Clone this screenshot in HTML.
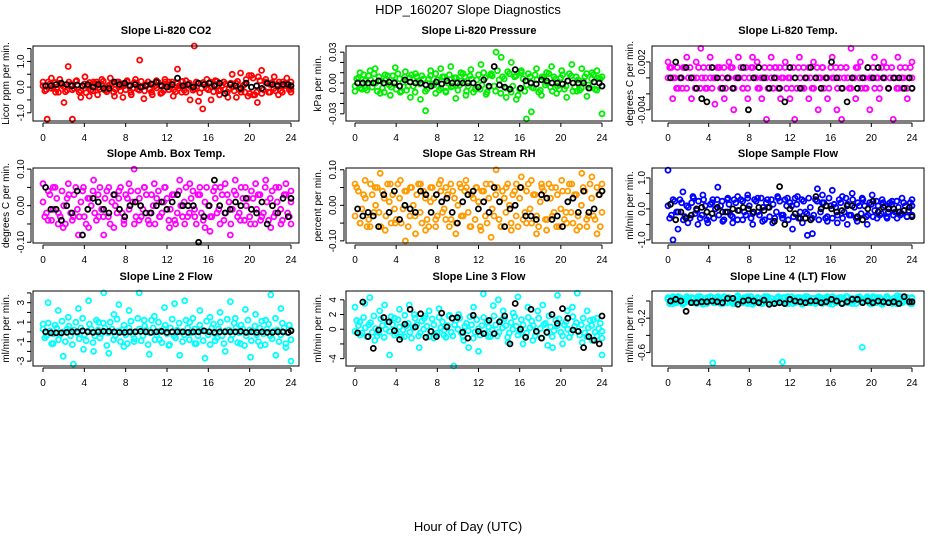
<!DOCTYPE html>
<html><head><meta charset="utf-8"><style>
html,body{margin:0;padding:0;background:#fff;}
svg{display:block;font-family:"Liberation Sans",sans-serif;}
</style></head><body>
<svg id="chart" width="936" height="540" viewBox="0 0 936 540">
<rect width="936" height="540" fill="#fff"/>
<text x="468" y="14" font-size="13" text-anchor="middle">HDP_160207  Slope Diagnostics</text>
<text x="468" y="531" font-size="13" text-anchor="middle">Hour of Day (UTC)</text>
</svg>
<script>
// ---- data (A, A2, C = dense band samples, B = scattered samples, K = black subset) ----
const xTicks=[0,4,8,12,16,20,24];
const co2A=[0.05,-0.1,0.12,0.0,-0.08,0.15,0.02,-0.12,0.1,-0.05,0.08,-0.15,0.12,0.03,-0.1,0.14,-0.02,0.1,-0.12,0.05,0.15,-0.08,0.0,0.12,-0.1,0.08,-0.05,0.15,-0.12,0.02,0.1,-0.08,0.12,-0.03,0.05,-0.15,0.1,0.0,-0.1,0.14,0.05,-0.12,0.08,0.0,-0.08,0.15,-0.05,0.12,-0.1,0.02,0.1,-0.14,0.06,0.12,-0.08,0.0,0.15,-0.1,0.05,0.3,-0.25,0.35,-0.2,0.25,-0.1,0.15,0.1,-0.06,0.1,-0.15,0.05,0.12,-0.08];
const co2A2=[-0.15,0.2,-0.05,0.18,-0.2,0.08,-0.18,0.2,-0.1,0.22,-0.2,0.05,-0.22,0.18,-0.15,0.2,-0.08,0.22,-0.18,0.1,-0.2,0.2,-0.15,0.05,0.2,-0.2,0.18,-0.08,0.22,-0.15,0.2,-0.2,0.05,0.18,-0.22,0.2,-0.1,0.2,-0.18,0.05,0.22,-0.2,0.15,-0.12,0.2,-0.22,0.18,-0.05,0.2,-0.18,0.22,-0.1,0.2,-0.2,0.15,-0.15,0.22,-0.2,0.1,-0.35,0.45,-0.3,0.4,-0.25,0.2,-0.2,0.18,-0.15,0.2,-0.2,0.15,-0.1,0.2];
const co2B=[0.2,-1.25,0.35,-0.2,0.3,-0.6,0.8,-1.25,0.25,-0.4,0.4,-0.35,0.2,-0.3,0.3,-0.1,0.35,-0.35,0.2,-0.4,0.25,-0.3,0.3,1.05,-0.45,0.2,-0.3,0.25,-0.25,0.3,0.2,-0.35,0.7,-0.2,0.25,-0.5,1.6,-0.55,-0.85,0.3,-0.5,0.25,-0.3,0.2,-0.4,0.5,-0.4,0.55,-0.2,0.45,-0.3,-0.6,0.65,0.3,-0.2,0.4,-0.3,0.2,0.35,-0.2];
const co2K=[0.05,0.05,0.1,0.15,0.1,0.05,0.08,0.05,0.1,0.0,0.1,-0.05,-0.05,0.2,0.1,0.15,0.05,0.1,0.0,0.05,0.12,0.2,0.05,0.0,0.1,0.35,0.05,0.1,0.0,0.15,0.1,0.15,0.05,0.15,-0.25,0.1,0.05,-0.05,0.15,0.0,0.05,-0.05,0.15,0.1,0.05,0.1,0.1,0.05];
// pressure in 1e-3 kPa
const presA=[-3,5,-6,2,7,-4,0,6,-5,3,-2,7,-6,4,1,-7,5,-3,6,-1,4,-6,7,-2,3,-5,6,0,-4,5,-7,2,6,-3,4,-6,8,-2,5,-4,7,-8,3,6,-5,9,-3,7,-6,4,-2,6,-5,3,-7,5,0,-4,6,-3,5,-6,2,7,-4,3,-5,6,-2,4,-6,5,-3];
const presA2=[4,-5,8,-7,3,9,-8,2,-9,7,-4,1,9,-8,6,-3,8,-9,2,7,-8,4,-1,9,-7,6,-9,8,-3,5,-2,9,-8,7,-9,3,-6,10,-9,8,-3,12,-10,4,11,-9,6,-12,10,-8,9,-4,8,-9,6,-2,9,-8,4,-6,8,-3,9,-8,6,-7,2,9,-5,8,-7,4,6];
const presB=[-8,10,-5,12,14,-10,8,-12,15,-9,11,-14,9,-16,-27,12,-10,14,-8,16,-15,10,-12,13,-6,18,-11,9,30,25,-14,20,-16,12,-35,-28,14,-12,10,16,-10,12,-14,18,-8,14,-13,10,12,-30];
const presK=[0,0,0,0,2,0,1,0,-3,3,1,0,0,-2,-3,1,-1,2,0,0,0,0,0,-4,3,-3,16,-2,-4,-6,13,-5,2,0,-1,3,2,0,0,-1,2,0,0,0,-5,1,0,-3];
// temperature in 1e-4 degC
const tempA=[0,13,0,-13,0,13,0,0,-13,13,0,0,13,-13,0,13,0,-13,0,13,0,0,-13,13,0,13,0,-13,0,0,13,-13,0,13,0,-13,0,13,-13,0,13,0,0,-13,13,0,-13,0,13,0,-13,13,0,0,-13,0,13,-13,0,13,0,-13,0,13,0,-13,13,0,-13,0,13,0,-13];
const tempA2=[13,0,-13,0,13,-13,13,0,0,-13,13,-13,0,0,13,-13,13,0,13,-13,0,13,0,-13,13,0,-13,0,13,-13,0,13,-13,0,13,0,-13,0,13,-13,0,13,-13,0,0,13,0,-13,0,13,0,-13,13,-13,0,13,0,0,-13,0,13,0,-13,0,13,0,0,-13,13,0,-13,13,0];
const tempB=[20,-26,13,-13,26,-26,20,37,-13,26,-33,13,-26,20,-40,26,-13,-26,26,20,-26,-52,26,13,-26,20,-26,-52,26,-13,-26,20,-40,13,-26,26,-40,-52,13,37,-26,20,-13,-40,26,-26,20,-13,-52,26,-13,-26,20];
const tempK=[0,20,0,13,0,-13,-26,-30,13,0,-13,0,-13,0,13,-40,0,13,0,-13,0,-13,-30,13,0,-13,0,13,0,-13,0,20,0,-13,-30,0,-13,0,13,0,13,0,-13,0,0,-13,0,-13];
// ambient temperature in 0.01 degC
const ambA=[1,-2,3,-1,2,-3,0,2,-2,3,-1,1,-3,2,0,-2,3,-1,2,-3,1,0,2,-2,3,-1,1,-3,2,-1,3,-2,0,2,-3,1,2,-1,3,-2,0,1,-3,2,-1,3,-2,1,0,-3,2,-1,3,-2,1,-1,3,-2,2,0,-3,2,-1,3,-2,1,2,-3,1,-1,3,-2,1];
const ambA2=[-3,4,-4,5,-2,4,-5,3,-4,5,-3,4,-5,2,4,-4,5,-3,4,-5,3,-2,5,-4,2,4,-5,4,-3,5,-4,3,-5,4,-2,5,-4,3,-5,4,-3,5,-2,4,-5,3,-4,5,-3,4,-2,5,-4,3,-5,4,-3,5,-4,2,4,-5,3,-3,5,-4,4,-2,5,-4,3,-3,4];
const ambB=[6,-4,5,-5,-6,6,-3,-8,5,-6,7,-3,-8,5,-6,4,-5,6,10,-4,5,-5,6,-3,5,-6,-4,7,-5,6,-3,5,-6,-7,5,-5,6,-8,7,-4,5,-5,6,-4,7,-6,5,-5,6,-5];
const ambK=[5,-1,-1,-4,0,-2,4,-8,-1,2,1,-1,-2,3,-1,-3,0,1,0,-2,-2,0,1,-1,1,3,0,0,0,-10,-3,0,7,0,-2,-1,1,0,2,-1,-2,1,-5,0,-2,2,-3,2];
// RH in 0.01 percent
const rhA=[-3,4,-1,2,-4,3,0,-2,4,-3,1,3,-4,2,-1,4,-3,0,3,-2,4,-4,1,2,-3,4,-1,3,-4,2,0,-3,4,-2,3,-4,1,4,-3,2,-1,3,-4,4,-2,0,3,-3,2,-4,4,-1,3,-3,1,4,-4,2,-2,3,-1,-4,4,-2,3,-3,0,4,-3,2,-4,3,-2];
const rhA2=[5,-5,3,-6,6,-2,5,-6,2,6,-5,-1,6,-5,4,-6,5,-3,6,-5,2,-6,5,-4,6,-2,5,-6,4,-5,6,-3,5,-6,2,5,-6,4,-5,6,-3,5,-6,2,6,-5,4,-6,5,-2,6,-5,3,-6,5,-4,6,-3,5,-6,4,-2,6,-5,3,-6,5,-4,6,-3,5,-6,4];
const rhB=[6,-5,7,-6,5,9,-7,6,-5,7,-10,5,-8,6,-7,5,-6,7,-4,6,-8,5,7,-6,5,-7,6,-9,10,-6,5,-7,6,8,-5,7,-8,6,-7,5,-6,7,-5,6,-7,9,-6,8,-8,6];
const rhK=[-1,-3,-2,-3,-6,3,-2,4,-4,0,-1,-2,4,3,-2,3,1,2,-2,-5,1,3,4,-1,1,-2,5,1,-6,-1,0,5,-3,-3,-4,3,2,-4,-3,-6,1,2,-2,4,-2,-1,3,4];
// sample flow
const sfA=[0.1,-0.2,0.25,-0.1,0.2,-0.25,0.05,0.2,-0.15,0.25,-0.2,0.1,-0.25,0.2,0.0,-0.2,0.25,-0.1,0.15,-0.25,0.2,-0.05,0.25,-0.2,0.1,-0.15,0.25,-0.2,0.05,0.2,-0.25,0.15,-0.1,0.25,-0.2,0.1,0.2,-0.25,0.15,-0.1,0.25,-0.15,0.05,-0.2,0.25,-0.1,0.2,-0.25,0.1,0.15,-0.2,0.2,-0.1,0.15,-0.2,0.05,0.2,-0.15,0.1,-0.2,0.15,-0.05,0.1,-0.15,0.1,-0.1,0.15,-0.1,0.05,-0.15,0.1,-0.05,0.1];
const sfA2=[-0.3,0.3,-0.1,0.3,-0.35,0.1,-0.3,0.35,-0.05,-0.3,0.3,-0.35,0.15,-0.3,0.3,0.1,-0.35,0.3,-0.2,0.3,-0.35,0.3,-0.1,0.35,-0.3,0.3,-0.1,0.35,-0.35,0.05,0.3,-0.3,0.35,-0.2,0.3,-0.35,0.1,0.35,-0.3,0.3,-0.1,0.35,-0.3,0.3,-0.35,0.2,-0.3,0.35,-0.3,0.05,0.3,-0.3,0.35,-0.2,0.3,-0.3,0.1,0.3,-0.25,0.2,-0.25,0.25,-0.2,0.2,-0.25,0.2,-0.2,0.25,-0.2,0.2,-0.25,0.2,-0.2];
const sfB=[1.25,-1.0,-0.65,0.55,-0.45,0.4,-0.5,0.45,-0.45,0.3,0.7,-0.4,0.35,-0.45,0.4,-0.35,0.45,-0.5,0.35,-0.4,0.3,-0.45,0.4,-0.3,0.35,-0.65,0.4,-0.45,-0.85,-0.8,0.65,0.45,-0.4,0.6,-0.45,0.4,-0.5,0.5,-0.4,0.35,-0.5,0.45,-0.3,0.3,-0.3,0.25,-0.3,0.35,-0.25,0.3];
const sfK=[0.15,-0.35,-0.1,-0.3,-0.2,0.0,0.05,-0.1,-0.15,0.05,-0.1,-0.1,0.0,-0.05,0.05,0.0,-0.1,0.05,-0.05,0.05,-0.4,0.72,-0.5,0.0,-0.15,-0.3,-0.3,-0.35,0.4,0.0,0.1,0.0,-0.1,-0.05,0.1,0.1,-0.25,-0.35,0.0,0.25,-0.1,0.05,0.0,0.0,-0.1,-0.05,0.05,-0.25];
// line 2 flow
const l2A=[0.3,-0.4,0.1,-0.2,0.4,-0.3,0.0,0.3,-0.4,0.2,-0.1,0.4,-0.3,0.1,0.3,-0.4,0.2,-0.2,0.4,-0.1,0.3,-0.4,0.1,0.2,-0.3,0.4,-0.2,0.0,0.3,-0.4,0.2,-0.1,0.4,-0.3,0.1,0.3,-0.2,0.4,-0.4,0.2,0.0,-0.3,0.4,-0.1,0.3,-0.4,0.2,0.1,-0.3,0.4,-0.2,0.3,-0.4,0.1,0.2,-0.3,0.4,-0.1,0.3,-0.4,0.2,0.0,-0.3,0.4,-0.2,0.3,-0.4,0.1,0.2,-0.3,0.4,-0.1,0.2];
const l2A2=[-0.6,0.9,-1.2,0.7,-0.8,1.1,-1.0,0.6,-1.3,1.0,-0.7,1.4,-0.9,0.8,-1.1,1.2,-0.6,0.9,-1.4,1.0,-0.8,1.3,-1.0,0.7,-1.2,1.1,-0.7,1.4,-0.9,0.6,-1.3,1.2,-0.8,1.0,-1.1,0.7,-1.4,1.3,-0.6,0.9,-1.0,1.2,-0.8,1.4,-1.2,0.7,-0.9,1.1,-1.3,0.8,-0.6,1.0,-1.2,1.3,-0.8,0.9,-1.1,0.7,-1.4,1.2,-0.9,0.6,-1.0,1.1,-1.3,0.8,-0.7,1.4,-1.0,0.9,-1.2,0.7,-0.8];
const l2B=[0.8,3.0,-1.2,2.2,-2.5,1.5,-3.3,2.4,-1.8,3.2,-2.0,1.0,4.0,-2.2,1.8,2.8,-1.5,2.2,-1.0,4.0,1.2,-2.3,1.6,-0.8,2.5,-1.3,2.9,-2.4,3.2,1.0,-1.2,2.2,-2.7,1.5,-0.9,2.0,-2.0,3.1,1.4,-1.2,2.3,-2.6,1.8,-1.4,1.2,3.8,-2.4,2.4,-1.6,-3.0];
const l2K=[0,-0.1,-0.1,-0.1,-0.05,0,0,0.1,0,-0.05,0,0.05,0.05,0,-0.05,-0.05,0,0,0.05,0,-0.05,0,0.05,-0.05,0,0,0,-0.05,0,0,0.1,0,-0.05,0,0,0,0,0.05,-0.05,0,-0.05,0,-0.05,-0.05,0,0,-0.05,0.1];
// line 3 flow
const l3A=[-0.3,0.5,-0.5,0.2,0.6,-0.4,0.1,-0.5,0.5,0.0,-0.3,0.6,-0.5,0.3,-0.1,0.5,-0.4,0.2,0.6,-0.5,0.0,0.4,-0.3,0.6,-0.5,0.2,-0.1,0.5,-0.4,0.6,0.0,-0.5,0.4,-0.2,0.6,-0.4,0.1,0.5,-0.5,0.3,-0.1,0.6,-0.4,0.2,0.5,-0.5,0.0,0.4,-0.3,0.6,-0.5,0.2,0.5,-0.4,0.1,0.6,-0.5,0.3,-0.2,0.5,-0.4,0.6,0.0,-0.5,0.4,-0.3,0.6,-0.5,0.2,0.5,-0.4,0.1,-0.3];
const l3A2=[1.2,-0.8,1.6,-1.0,0.9,1.8,-0.9,1.4,-1.1,1.0,1.7,-0.8,1.3,-1.0,1.9,0.8,-1.2,1.5,-0.9,1.1,1.8,-1.0,1.4,-0.8,1.6,1.0,-1.1,1.9,-0.9,1.2,1.5,-1.0,0.8,1.7,-1.2,1.3,-0.8,1.6,1.0,-1.0,1.8,-0.9,1.2,1.4,-1.1,0.9,1.7,-0.8,1.3,-1.0,1.6,1.1,-0.9,1.5,-1.2,0.8,1.8,-1.0,1.2,1.4,-0.9,1.0,-1.1,1.7,0.9,-0.8,1.5,-1.0,1.2,1.3,-0.9,0.8,-1.2];
const l3B=[3.0,1.0,3.5,4.3,-1.5,2.5,3.3,-3.5,1.5,2.7,-1.0,3.3,2.0,-2.5,1.5,2.5,-1.2,2.8,-0.8,1.8,-5.0,2.0,-1.5,-2.5,3.0,-3.0,4.8,-1.0,3.2,4.0,2.5,-1.8,2.2,4.4,-2.0,3.0,-1.5,2.5,3.3,-2.2,-2.5,4.6,-2.0,2.5,3.0,4.9,-1.8,2.5,-1.5,1.5,-3.5];
const l3K=[-0.5,3.7,-1.0,-2.6,-0.1,1.6,1.0,-0.2,-1.4,0.7,2.7,0.3,2.1,-1.1,-0.3,-1.0,2.2,0.3,1.5,1.6,-0.4,-1.2,1.9,-0.3,-0.6,1.2,-0.6,1.0,1.8,-2.0,3.5,0.0,-1.1,2.7,-0.3,-1.2,-0.4,2.0,0.8,2.8,1.5,-0.1,-0.3,-2.5,-1.0,-1.5,-2.0,1.8];
// line 4 flow
const l4A=[0.02,-0.02,0.04,0.0,0.03,-0.02,0.01,0.04,-0.01,0.02,-0.02,0.03,0.0,0.04,-0.02,0.02,0.03,-0.01,0.04,0.0,-0.02,0.03,0.01,0.04,-0.02,0.02,0.0,0.03,-0.02,0.04,0.01,-0.01,0.03,0.0,0.04,-0.02,0.02,0.03,-0.01,0.04,0.0,0.02,-0.02,0.03,0.01,0.04,-0.02,0.02,0.0,0.03,-0.01,0.04,0.02,-0.02,0.03,0.0,0.04,-0.01,0.02,0.03,-0.02,0.04,0.0,0.02,-0.01,0.03,0.01,-0.02,0.04,0.0,0.02,-0.01,0.03];
const l4A2=[-0.03,0.05,-0.02,0.04,-0.03,0.05,-0.01,0.03,-0.03,0.05,0.0,-0.03,0.05,-0.02,0.04,-0.03,0.05,-0.02,0.03,-0.03,0.05,-0.01,0.04,-0.03,0.05,-0.02,0.04,-0.03,0.05,-0.02,0.03,-0.03,0.05,-0.01,0.04,-0.03,0.05,-0.02,0.04,-0.03,0.05,-0.02,0.03,-0.03,0.05,-0.01,0.04,-0.03,0.05,-0.02,0.04,-0.03,0.05,-0.02,0.03,-0.03,0.05,-0.01,0.04,-0.03,0.05,-0.02,0.04,-0.03,0.05,-0.02,0.03,-0.03,0.05,-0.01,0.04,-0.03,0.04];
const l4B=[0.04,-0.03,0.05,-0.04,0.03,-0.02,0.05,-0.04,0.04,-0.72,0.05,-0.03,0.04,-0.03,0.06,-0.02,0.05,-0.04,0.04,-0.03,0.05,-0.02,0.04,-0.71,0.05,-0.03,0.04,-0.04,0.05,-0.02,0.04,-0.03,0.05,-0.04,0.03,-0.02,0.05,-0.03,0.04,-0.54,0.05,-0.03,0.04,-0.04,0.05,-0.03,0.06,-0.02,0.04,-0.03];
const l4K=[0.0,0.02,0.0,-0.12,-0.02,-0.02,-0.01,-0.01,0.0,-0.01,-0.02,0.03,0.03,-0.04,0.0,0.01,0.0,-0.02,0.01,-0.04,-0.03,-0.02,-0.03,0.02,0.0,-0.01,-0.02,0.0,0.0,-0.02,-0.01,0.02,0.0,-0.03,-0.01,0.02,0.02,-0.02,0.0,-0.02,0.0,-0.01,-0.02,-0.01,-0.03,0.05,-0.01,-0.01];

const cols=[{l:33,r:299,x0:43,x24:291,lab:9,tl:24},{l:346,r:612,x0:355,x24:602,lab:321,tl:336},{l:652,r:924,x0:668,x24:912,lab:633,tl:645}];
const rows=[{t:46,b:121,title:34},{t:168,b:243,title:157},{t:291,b:366,title:280}];
const panels=[
 {name:'co2',title:'Slope Li-820 CO2',yl:'Licor ppm per min.',c:0,r:0,col:'#ff0000',A:co2A,A2:co2A2,B:co2B,K:co2K,dom:[-1.32,1.6],ticks:[-1,-0.5,0,0.5,1,1.5],labs:{'-1':'-1.0','0':'0.0','1':'1.0'}},
 {name:'pressure',title:'Slope Li-820 Pressure',yl:'kPa per min.',c:1,r:0,col:'#00ee00',A:presA,A2:presA2,B:presB,K:presK,dom:[-37,36],ticks:[-30,-20,-10,0,10,20,30],labs:{'-30':'-0.03','0':'0.00','30':'0.03'}},
 {name:'li820-temp',title:'Slope Li-820 Temp.',yl:'degrees C  per min.',c:2,r:0,col:'#ff00ff',A:tempA,A2:tempA2,B:tempB,K:tempK,dom:[-54,40],ticks:[-40,-20,0,20],labs:{'-40':'-0.004','20':'0.002'}},
 {name:'amb-temp',title:'Slope Amb. Box Temp.',yl:'degrees C per min.',c:0,r:1,col:'#ff00ff',A:ambA,A2:ambA2,B:ambB,K:ambK,dom:[-10.2,10.3],ticks:[-10,-5,0,5,10],labs:{'-10':'-0.10','0':'0.00','10':'0.10'}},
 {name:'gas-rh',title:'Slope Gas Stream RH',yl:'percent per min.',c:1,r:1,col:'#ff9a00',A:rhA,A2:rhA2,B:rhB,K:rhK,dom:[-10.6,10.5],ticks:[-10,-5,0,5,10],labs:{'-10':'-0.10','0':'0.00','10':'0.10'}},
 {name:'sample-flow',title:'Slope Sample Flow',yl:'ml/min per min.',c:2,r:1,col:'#0000ff',A:sfA,A2:sfA2,B:sfB,K:sfK,dom:[-1.1,1.32],ticks:[-1,-0.5,0,0.5,1],labs:{'-1':'-1.0','0':'0.0','1':'1.0'}},
 {name:'line2-flow',title:'Slope Line 2 Flow',yl:'ml/min per min.',c:0,r:2,col:'#00ffff',A:l2A,A2:l2A2,B:l2B,K:l2K,dom:[-3.5,4.2],ticks:[-3,-2,-1,0,1,2,3,4],labs:{'-3':'-3','-1':'-1','1':'1','3':'3'}},
 {name:'line3-flow',title:'Slope Line 3 Flow',yl:'ml/min per min.',c:1,r:2,col:'#00ffff',A:l3A,A2:l3A2,B:l3B,K:l3K,dom:[-5.0,5.2],ticks:[-4,-2,0,2,4],labs:{'-4':'-4','0':'0','2':'2','4':'4'}},
 {name:'line4-flow',title:'Slope Line 4 (LT) Flow',yl:'ml/min per min.',c:2,r:2,col:'#00ffff',A:l4A,A2:l4A2,B:l4B,K:l4K,dom:[-0.756,0.116],ticks:[-0.6,-0.4,-0.2,0],labs:{'-0.6':'-0.6','-0.2':'-0.2'}}
];
const NS='http://www.w3.org/2000/svg';
const svg=document.getElementById('chart');
function mk(tag,attrs,parent){const e=document.createElementNS(NS,tag);for(const k in attrs)e.setAttribute(k,attrs[k]);(parent||svg).appendChild(e);return e;}
panels.forEach(p=>{
 const C=cols[p.c],R=rows[p.r];
 const g=mk('g',{});
 
 
 const xs=h=>C.x0+(C.x24-C.x0)*h/24;
 const ys=v=>R.b-(v-p.dom[0])/(p.dom[1]-p.dom[0])*(R.b-R.t);
 const t=mk('text',{x:(C.l+C.r)/2,y:R.title,'font-size':11,'font-weight':'bold','text-anchor':'middle'},g);t.textContent=p.title;
 
 
 const pts=mk('g',{fill:'none','stroke-width':1.8},g);
 
 
 [[p.A,p.col,0],[p.A2,p.col,0.17],[p.B,p.col,0],[p.K,'#000',0.25]].forEach(([arr,col,off])=>{
  arr.forEach((v,i)=>{
   const h=Math.min(24,24*i/(arr.length-1)+off);
   const c=mk('circle',{cx:xs(h).toFixed(1),cy:ys(v).toFixed(1),r:2.5,stroke:col},pts);
   
   
  });
 });
 const box=mk('rect',{x:C.l,y:R.t,width:C.r-C.l,height:R.b-R.t,fill:'none',stroke:'#000','stroke-width':1},g);
 
 
 const xa=mk('g',{},g);
 
 
 mk('line',{x1:xs(0),x2:xs(24),y1:R.b+2,y2:R.b+2,stroke:'#000'},xa);
 xTicks.forEach(h=>{
  mk('line',{x1:xs(h),x2:xs(h),y1:R.b+2,y2:R.b+6,stroke:'#000'},xa);
  const tl=mk('text',{x:xs(h),y:R.b+20,'font-size':10,'text-anchor':'middle'},xa);tl.textContent=h;
  
  
 });
 const ya=mk('g',{},g);
 
 
 mk('line',{x1:C.l-2,x2:C.l-2,y1:ys(p.ticks[0]),y2:ys(p.ticks[p.ticks.length-1]),stroke:'#000'},ya);
 p.ticks.forEach(v=>{
  const y=ys(v);
  mk('line',{x1:C.l-6,x2:C.l-2,y1:y,y2:y,stroke:'#000'},ya);
  const s=p.labs[String(v)];
  if(s){const tl=mk('text',{x:C.tl,y:y,'font-size':10,'text-anchor':'middle',transform:`rotate(-90 ${C.tl} ${y})`},ya);tl.textContent=s;
   
   }
 });
 const yt=mk('text',{x:C.lab,y:(R.t+R.b)/2,'font-size':10,'text-anchor':'middle',transform:`rotate(-90 ${C.lab} ${(R.t+R.b)/2})`},g);
 yt.textContent=p.yl;
 
 
});
</script>
</body></html>
